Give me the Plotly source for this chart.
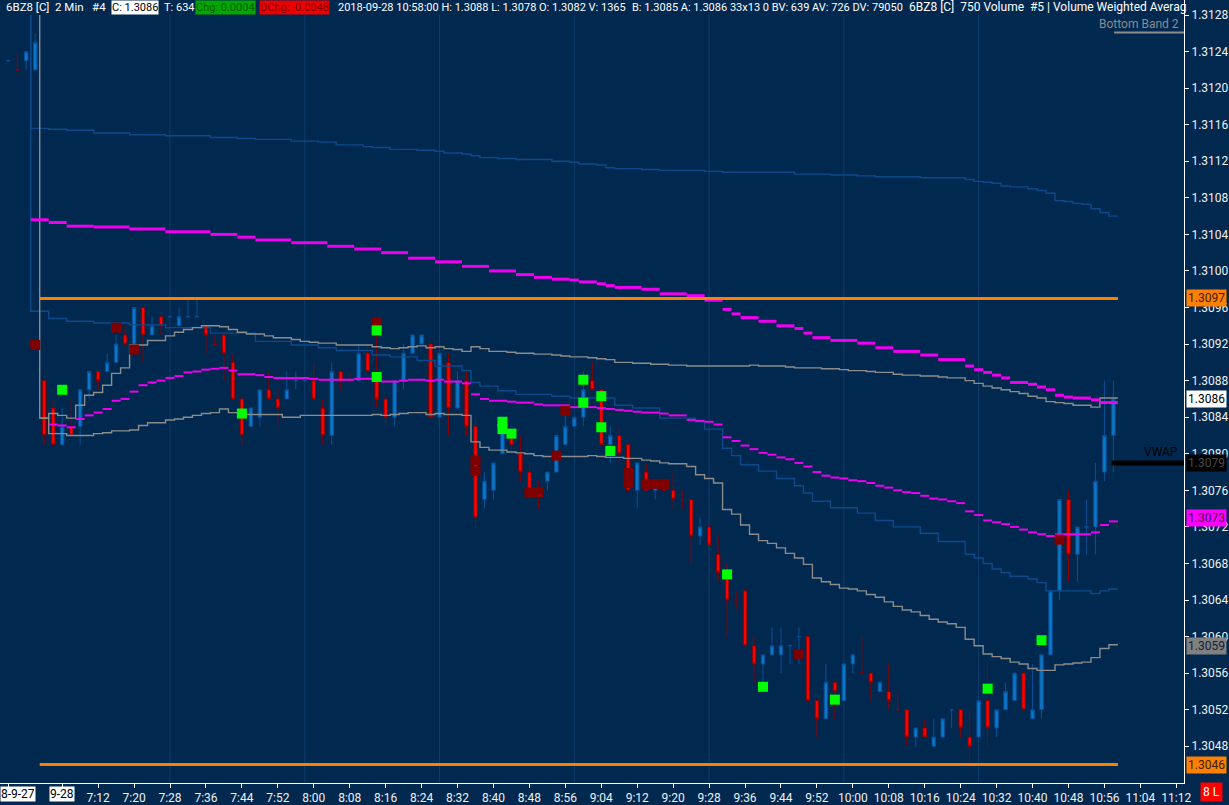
import plotly.graph_objects as go

# 6BZ8 2 min bars. bar 0 = 7:00 on 9-28, negative bars are the end of 9-27
bars = list(range(-4, 120))
opens = [1.3123, 1.3122, 1.3123, 1.3122,
         1.3088, 1.3085, 1.3081, 1.3083, 1.3083, 1.3087, 1.3089, 1.3089, 1.3090, 1.3093,
         1.3092, 1.3096, 1.3093, 1.3095, 1.3095, 1.3094, 1.3095, 1.3095, 1.3094, 1.3092,
         1.3093, 1.3090, 1.3086, 1.3083, 1.3084, 1.3087, 1.3086, 1.3086, 1.3088, 1.3088,
         1.3088, 1.3085, 1.3082, 1.3089, 1.3088, 1.3088, 1.3091, 1.3088, 1.3086, 1.3084,
         1.3088, 1.3091, 1.3092, 1.3092, 1.3084, 1.3090, 1.3085, 1.3088, 1.3083, 1.3075,
         1.3076, 1.3080, 1.3082, 1.3080, 1.3078, 1.3076, 1.3077, 1.3078, 1.3081, 1.3083,
         1.3084, 1.3088, 1.3087, 1.3081, 1.3082, 1.3081, 1.3076, 1.3078, 1.3076, 1.3077,
         1.3076, 1.3075, 1.3075, 1.3071, 1.3072, 1.3069, 1.3067, 1.3064, 1.3065, 1.3059,
         1.3057, 1.3058, 1.3058, 1.3059, 1.3060, 1.3060, 1.3053, 1.3051, 1.3055, 1.3053,
         1.3057, 1.3056, 1.3056, 1.3054, 1.3054, 1.3052, 1.3052, 1.3049, 1.3050, 1.3048,
         1.3049, 1.3052, 1.3052, 1.3049, 1.3049, 1.3053, 1.3050, 1.3052, 1.3053, 1.3056,
         1.3051, 1.3052, 1.3058, 1.3065, 1.3075, 1.3069, 1.3072, 1.3072, 1.3078, 1.3082]
highs = [1.3123, 1.3124, 1.3124, 1.3126,
         1.3088, 1.3086, 1.3085, 1.3086, 1.3087, 1.3089, 1.3089, 1.3091, 1.3093, 1.3094,
         1.3096, 1.3096, 1.3095, 1.3095, 1.3095, 1.3096, 1.3097, 1.3097, 1.3094, 1.3093,
         1.3093, 1.3091, 1.3086, 1.3085, 1.3087, 1.3089, 1.3087, 1.3089, 1.3089, 1.3088,
         1.3090, 1.3086, 1.3090, 1.3089, 1.3089, 1.3092, 1.3092, 1.3095, 1.3086, 1.3088,
         1.3092, 1.3093, 1.3093, 1.3092, 1.3091, 1.3091, 1.3089, 1.3089, 1.3084, 1.3078,
         1.3079, 1.3084, 1.3083, 1.3082, 1.3079, 1.3077, 1.3078, 1.3082, 1.3085, 1.3084,
         1.3089, 1.3090, 1.3087, 1.3083, 1.3083, 1.3081, 1.3079, 1.3079, 1.3077, 1.3077,
         1.3078, 1.3076, 1.3075, 1.3073, 1.3072, 1.3071, 1.3068, 1.3065, 1.3065, 1.3060,
         1.3058, 1.3061, 1.3061, 1.3059, 1.3061, 1.3060, 1.3053, 1.3057, 1.3055, 1.3057,
         1.3058, 1.3060, 1.3056, 1.3055, 1.3057, 1.3054, 1.3052, 1.3050, 1.3051, 1.3051,
         1.3051, 1.3052, 1.3052, 1.3052, 1.3053, 1.3057, 1.3052, 1.3055, 1.3056, 1.3056,
         1.3057, 1.3058, 1.3065, 1.3075, 1.3076, 1.3072, 1.3075, 1.3079, 1.3088, 1.3088]
lows = [1.3123, 1.3122, 1.3122, 1.3122,
        1.3081, 1.3081, 1.3081, 1.3082, 1.3081, 1.3086, 1.3087, 1.3089, 1.3090, 1.3092,
        1.3092, 1.3090, 1.3093, 1.3093, 1.3095, 1.3094, 1.3095, 1.3095, 1.3091, 1.3092,
        1.3088, 1.3086, 1.3081, 1.3083, 1.3083, 1.3086, 1.3083, 1.3086, 1.3087, 1.3088,
        1.3086, 1.3081, 1.3081, 1.3087, 1.3088, 1.3088, 1.3089, 1.3085, 1.3083, 1.3083,
        1.3087, 1.3091, 1.3092, 1.3084, 1.3084, 1.3082, 1.3085, 1.3082, 1.3072, 1.3074,
        1.3075, 1.3080, 1.3080, 1.3077, 1.3075, 1.3074, 1.3076, 1.3078, 1.3081, 1.3083,
        1.3083, 1.3087, 1.3081, 1.3079, 1.3079, 1.3076, 1.3074, 1.3076, 1.3075, 1.3076,
        1.3074, 1.3074, 1.3068, 1.3070, 1.3070, 1.3066, 1.3060, 1.3063, 1.3059, 1.3055,
        1.3055, 1.3058, 1.3056, 1.3057, 1.3057, 1.3053, 1.3049, 1.3051, 1.3051, 1.3053,
        1.3056, 1.3056, 1.3053, 1.3054, 1.3052, 1.3052, 1.3048, 1.3048, 1.3049, 1.3048,
        1.3049, 1.3050, 1.3049, 1.3046, 1.3049, 1.3048, 1.3049, 1.3052, 1.3053, 1.3052,
        1.3051, 1.3051, 1.3058, 1.3064, 1.3066, 1.3066, 1.3069, 1.3069, 1.3077, 1.3078]
closes = [1.3123, 1.3122, 1.3124, 1.3125,
          1.3082, 1.3081, 1.3083, 1.3082, 1.3087, 1.3089, 1.3088, 1.3090, 1.3092, 1.3092,
          1.3096, 1.3093, 1.3094, 1.3094, 1.3095, 1.3095, 1.3095, 1.3095, 1.3093, 1.3092,
          1.3091, 1.3086, 1.3082, 1.3085, 1.3087, 1.3086, 1.3085, 1.3087, 1.3088, 1.3088,
          1.3086, 1.3082, 1.3089, 1.3088, 1.3088, 1.3091, 1.3089, 1.3086, 1.3084, 1.3088,
          1.3091, 1.3093, 1.3093, 1.3084, 1.3091, 1.3085, 1.3088, 1.3083, 1.3073, 1.3077,
          1.3079, 1.3084, 1.3081, 1.3078, 1.3076, 1.3076, 1.3078, 1.3082, 1.3083, 1.3084,
          1.3087, 1.3087, 1.3081, 1.3082, 1.3080, 1.3076, 1.3079, 1.3076, 1.3077, 1.3076,
          1.3075, 1.3075, 1.3071, 1.3072, 1.3070, 1.3067, 1.3064, 1.3064, 1.3059, 1.3057,
          1.3058, 1.3059, 1.3059, 1.3059, 1.3060, 1.3053, 1.3051, 1.3055, 1.3054, 1.3057,
          1.3058, 1.3056, 1.3055, 1.3055, 1.3053, 1.3052, 1.3049, 1.3050, 1.3049, 1.3049,
          1.3051, 1.3052, 1.3050, 1.3048, 1.3053, 1.3050, 1.3052, 1.3054, 1.3056, 1.3052,
          1.3052, 1.3058, 1.3065, 1.3075, 1.3069, 1.3072, 1.3072, 1.3077, 1.3082, 1.3086]

# indicator lines, stored as (first bar of each step, value)
top_blue_start = [-1, -1, 1, 3, 6, 10, 14, 19, 22, 24, 28, 31, 33, 36, 37, 39, 42, 44, 45, 47,
                  48, 49, 51, 53, 57, 59, 60, 62, 63, 64, 67, 69, 74, 76, 84, 88, 91, 93, 98, 103,
                  104, 105, 106, 107, 108, 110, 111, 112, 113, 114, 115, 116, 117, 118, 119]
top_blue_val = [1.3128, 1.31156, 1.31155, 1.31154, 1.31151, 1.31149, 1.31148, 1.31146, 1.31145, 1.31144,
                1.31142, 1.31141, 1.31138, 1.31136, 1.31135, 1.31133, 1.31132, 1.31131, 1.31129, 1.31128,
                1.31126, 1.31124, 1.31123, 1.31122, 1.31120, 1.31119, 1.31117, 1.31116, 1.31113, 1.31112,
                1.31111, 1.31110, 1.31109, 1.31108, 1.31106, 1.31105, 1.31104, 1.31103, 1.31102, 1.31100,
                1.31098, 1.31097, 1.31096, 1.31093, 1.31092, 1.31090, 1.31088, 1.31085, 1.31077, 1.31076,
                1.31074, 1.31073, 1.31068, 1.31064, 1.31060]

low_blue_start = [-1, -1, 1, 3, 6, 10, 14, 19, 24, 28, 31, 33, 37, 39, 42, 44, 47, 48, 49, 51,
                  53, 57, 59, 64, 66, 69, 73, 74, 76, 77, 78, 80, 82, 84, 85, 86, 88, 91, 93, 95,
                  98, 100, 103, 104, 105, 106, 107, 108, 110, 111, 112, 117, 118, 119]
low_blue_val = [1.3128, 1.30956, 1.30948, 1.30945, 1.30943, 1.30941, 1.30938, 1.30932, 1.30923, 1.30919,
                1.30916, 1.30913, 1.30908, 1.30906, 1.30902, 1.30896, 1.30891, 1.30878, 1.30874, 1.30869,
                1.30865, 1.30863, 1.30861, 1.30853, 1.30850, 1.30839, 1.30835, 1.30827, 1.30806, 1.30798,
                1.30788, 1.30781, 1.30773, 1.30765, 1.30757, 1.30748, 1.30741, 1.30735, 1.30727, 1.30720,
                1.30713, 1.30704, 1.30690, 1.30686, 1.30680, 1.30674, 1.30670, 1.30666, 1.30663, 1.30659,
                1.30650, 1.30647, 1.30650, 1.30652]

up_gray_start = [0, 0, 1, 2, 3, 4, 5, 6, 7, 8, 9, 10, 12, 14, 15, 16, 17, 18, 20, 21,
                 22, 23, 25, 26, 28, 29, 30, 31, 33, 37, 38, 39, 40, 41, 42, 43, 44, 45, 46, 47,
                 48, 49, 50, 52, 53, 55, 57, 58, 59, 61, 62, 63, 64, 66, 68, 70, 72, 79, 80, 83,
                 84, 87, 89, 90, 92, 93, 95, 96, 98, 100, 101, 103, 104, 105, 106, 107, 108, 109, 110, 111,
                 112, 113, 114, 115, 117, 118]
up_gray_val = [1.3128, 1.30839, 1.30844, 1.30842, 1.30839, 1.30853, 1.30864, 1.30867, 1.30875, 1.30888,
               1.30894, 1.30919, 1.30924, 1.30929, 1.30933, 1.30936, 1.30938, 1.30940, 1.30939, 1.30936,
               1.30933, 1.30931, 1.30929, 1.30927, 1.30925, 1.30923, 1.30922, 1.30921, 1.30919, 1.30917,
               1.30916, 1.30915, 1.30916, 1.30917, 1.30918, 1.30916, 1.30917, 1.30915, 1.30914, 1.30912,
               1.30917, 1.30915, 1.30912, 1.30911, 1.30910, 1.30909, 1.30908, 1.30907, 1.30906, 1.30905,
               1.30904, 1.30903, 1.30900, 1.30899, 1.30898, 1.30897, 1.30896, 1.30897, 1.30896, 1.30895,
               1.30894, 1.30893, 1.30892, 1.30891, 1.30890, 1.30889, 1.30887, 1.30886, 1.30885, 1.30884,
               1.30883, 1.30880, 1.30877, 1.30874, 1.30872, 1.30870, 1.30868, 1.30866, 1.30863, 1.30861,
               1.30857, 1.30856, 1.30855, 1.30853, 1.30851, 1.30861]

lo_gray_start = [0, 1, 3, 6, 7, 8, 10, 11, 12, 14, 15, 16, 17, 18, 19, 20, 21, 23, 27, 29,
                 37, 38, 39, 40, 41, 43, 44, 45, 47, 48, 49, 50, 52, 53, 54, 55, 56, 61, 62, 63,
                 65, 67, 68, 69, 70, 72, 73, 74, 75, 76, 77, 78, 79, 80, 81, 82, 83, 84, 85, 86,
                 87, 88, 89, 90, 91, 92, 93, 94, 95, 96, 97, 98, 99, 100, 101, 102, 103, 104, 105, 106,
                 107, 108, 109, 110, 111, 113, 114, 115, 116, 117, 118, 119]
lo_gray_val = [1.30839, 1.30822, 1.30820, 1.30822, 1.30823, 1.30825, 1.30826, 1.30831, 1.30834, 1.30837,
               1.30838, 1.30840, 1.30842, 1.30844, 1.30845, 1.30849, 1.30845, 1.30843, 1.30840, 1.30842,
               1.30843, 1.30842, 1.30843, 1.30844, 1.30845, 1.30843, 1.30844, 1.30843, 1.30842, 1.30813,
               1.30807, 1.30804, 1.30802, 1.30801, 1.30800, 1.30798, 1.30797, 1.30798, 1.30797, 1.30796,
               1.30795, 1.30793, 1.30792, 1.30790, 1.30789, 1.30786, 1.30777, 1.30773, 1.30768, 1.30739,
               1.30734, 1.30722, 1.30712, 1.30705, 1.30702, 1.30697, 1.30691, 1.30686, 1.30679, 1.30664,
               1.30660, 1.30657, 1.30653, 1.30652, 1.30650, 1.30646, 1.30643, 1.30638, 1.30633, 1.30629,
               1.30627, 1.30623, 1.30619, 1.30616, 1.30614, 1.30610, 1.30597, 1.30590, 1.30581, 1.30578,
               1.30576, 1.30572, 1.30570, 1.30565, 1.30563, 1.30569, 1.30570, 1.30571, 1.30572, 1.30577,
               1.30587, 1.30591]

vwap_start = [1, 2, 3, 4, 5, 6, 7, 8, 9, 10, 11, 12, 13, 14, 15, 16, 17, 18, 19, 20,
              21, 22, 24, 25, 26, 30, 31, 35, 38, 40, 41, 43, 44, 45, 47, 48, 49, 50, 52, 53,
              55, 56, 59, 62, 63, 64, 65, 66, 67, 69, 70, 72, 73, 74, 75, 76, 77, 78, 79, 80,
              81, 82, 83, 84, 85, 86, 87, 88, 89, 90, 91, 92, 93, 94, 95, 96, 97, 98, 99, 100,
              101, 102, 103, 104, 105, 106, 107, 108, 109, 110, 111, 112, 113, 117, 118, 119]
vwap_val = [1.30832, 1.30831, 1.30829, 1.30838, 1.30842, 1.30845, 1.30849, 1.30858, 1.30860, 1.30868,
            1.30875, 1.30878, 1.30880, 1.30883, 1.30885, 1.30889, 1.30890, 1.30892, 1.30893, 1.30894,
            1.30891, 1.30887, 1.30886, 1.30884, 1.30883, 1.30882, 1.30881, 1.30882, 1.30879, 1.30880,
            1.30881, 1.30880, 1.30881, 1.30879, 1.30877, 1.30865, 1.30860, 1.30858, 1.30857, 1.30856,
            1.30854, 1.30853, 1.30851, 1.30850, 1.30849, 1.30848, 1.30847, 1.30846, 1.30845, 1.30844,
            1.30842, 1.30837, 1.30836, 1.30835, 1.30832, 1.30818, 1.30814, 1.30809, 1.30805, 1.30801,
            1.30799, 1.30796, 1.30794, 1.30790, 1.30786, 1.30780, 1.30776, 1.30774, 1.30773, 1.30771,
            1.30770, 1.30768, 1.30765, 1.30763, 1.30760, 1.30758, 1.30757, 1.30754, 1.30751, 1.30750,
            1.30748, 1.30746, 1.30737, 1.30733, 1.30727, 1.30725, 1.30723, 1.30720, 1.30717, 1.30714,
            1.30712, 1.30710, 1.30712, 1.30714, 1.30722, 1.30726]

mag_start = [-1, 1, 3, 6, 10, 14, 19, 22, 24, 28, 32, 35, 38, 41, 44, 47, 50, 53, 55, 57,
             59, 60, 62, 63, 64, 67, 69, 72, 74, 76, 77, 78, 80, 82, 84, 85, 86, 88, 91, 93,
             95, 98, 100, 103, 104, 105, 106, 107, 108, 110, 111, 112, 113, 114, 115, 117, 118]
mag_val = [1.31056, 1.31053, 1.31049, 1.31048, 1.31046, 1.31043, 1.31040, 1.31037, 1.31034, 1.31031,
           1.31027, 1.31024, 1.31020, 1.31014, 1.31010, 1.31005, 1.31000, 1.30996, 1.30993, 1.30991,
           1.30990, 1.30988, 1.30986, 1.30984, 1.30982, 1.30980, 1.30975, 1.30973, 1.30968, 1.30958,
           1.30953, 1.30949, 1.30945, 1.30940, 1.30937, 1.30932, 1.30927, 1.30924, 1.30921, 1.30916,
           1.30912, 1.30908, 1.30903, 1.30896, 1.30892, 1.30889, 1.30886, 1.30883, 1.30878, 1.30876,
           1.30873, 1.30870, 1.30864, 1.30862, 1.30861, 1.30859, 1.30856]

# signal boxes
green_bar = [2, 22, 37, 37, 51, 51, 52, 60, 60, 62, 62, 63, 76, 80, 88, 105, 111]
green_price = [1.30870, 1.30844, 1.30935, 1.30884, 1.30835, 1.30827, 1.30822, 1.30881, 1.30856,
               1.30863, 1.30829, 1.30803, 1.30668, 1.30545, 1.30531, 1.30543, 1.30596]
red_bar = [-1, 8, 10, 37, 48, 48, 54, 55, 57, 58, 65, 65, 67, 68, 69, 84, 113]
red_price = [1.30919, 1.30938, 1.30914, 1.30944, 1.30793, 1.30781, 1.30758, 1.30758, 1.30798,
             1.30847, 1.30779, 1.30768, 1.30767, 1.30767, 1.30767, 1.30581, 1.30706]

session_high = 1.3097
session_low = 1.3046
vwap_flag = 1.3079
flag_prices = [1.3097, 1.3086, 1.3079, 1.3073, 1.3059, 1.3046]
grid_bars = [14, 29, 44, 59, 74, 89, 104]

price_ticks = [1.3048, 1.3052, 1.3056, 1.3060, 1.3064, 1.3068, 1.3072, 1.3076, 1.3080, 1.3084,
               1.3088, 1.3092, 1.3096, 1.3100, 1.3104, 1.3108, 1.3112, 1.3116, 1.3120, 1.3124, 1.3128]
time_tick_bars = list(range(6, 127, 4))
time_labels = ["7:12", "7:20", "7:28", "7:36", "7:44", "7:52", "8:00", "8:08", "8:16", "8:24",
               "8:32", "8:40", "8:48", "8:56", "9:04", "9:12", "9:20", "9:28", "9:36", "9:44",
               "9:52", "10:00", "10:08", "10:16", "10:24", "10:32", "10:40", "10:48", "10:56",
               "11:04", "11:12"]

W, H = 1229, 805
MR, MB = 43, 19
PW, PH = W - MR, H - MB
BG = "#01284f"
FONT = "Roboto, Segoe UI, Arial, sans-serif"


def px_x(p):
    return p / PW


def px_y(p):
    return 1 - p / PH


def steps(starts, vals, end, gaps=False):
    xs, ys = [], []
    for k, v in enumerate(vals):
        e = starts[k + 1] if k + 1 < len(starts) else end
        xs += [starts[k] - 0.5, e - 0.5]
        ys += [v, v]
        if gaps:
            xs.append(None)
            ys.append(None)
    return xs, ys


fig = go.Figure()

fig.add_trace(go.Candlestick(
    x=bars, open=opens, high=highs, low=lows, close=closes,
    increasing=dict(line=dict(color="#0a4f96", width=1), fillcolor="#0a78c8"),
    decreasing=dict(line=dict(color="#8b0000", width=1), fillcolor="#ff0000"),
    whiskerwidth=0, hoverinfo="skip", showlegend=False))

end_bar = bars[-1] + 1
for st, vl, col, w, gap in [
        (top_blue_start, top_blue_val, "#0d4a8c", 1.4, False),
        (low_blue_start, low_blue_val, "#0d4a8c", 1.4, False),
        (up_gray_start, up_gray_val, "#8c8c8c", 1.4, False),
        (lo_gray_start, lo_gray_val, "#8c8c8c", 1.4, False),
        (mag_start, mag_val, "#f000f0", 3, True),
        (vwap_start, vwap_val, "#f000f0", 2, True)]:
    xs, ys = steps(st, vl, end_bar, gap)
    fig.add_trace(go.Scatter(x=xs, y=ys, mode="lines", line=dict(color=col, width=w),
                             hoverinfo="skip", showlegend=False))

for lvl in [session_high, session_low]:
    fig.add_trace(go.Scatter(x=[-0.5, bars[-1] + 0.5], y=[lvl, lvl], mode="lines",
                             line=dict(color="#ff8000", width=3), hoverinfo="skip", showlegend=False))

fig.add_trace(go.Scatter(x=red_bar, y=red_price, mode="markers",
                         marker=dict(symbol="square", size=10, color="#800000", line=dict(width=0)),
                         hoverinfo="skip", showlegend=False))
fig.add_trace(go.Scatter(x=green_bar, y=green_price, mode="markers",
                         marker=dict(symbol="square", size=10, color="#00ff00", line=dict(width=0)),
                         hoverinfo="skip", showlegend=False))

x_lo = (0 - 44.3) / 9
x_hi = (PW - 44.3) / 9
y_top = 1.3100 + 272 * 0.0001 / 9.175
y_bot = 1.3100 - (PH - 272) * 0.0001 / 9.175

shapes = []
for b in grid_bars:
    shapes.append(dict(type="line", xref="x", yref="paper", x0=b, x1=b, y0=0, y1=px_y(15),
                       line=dict(color="#0f3d6c", width=1), layer="below"))
# VWAP pointer to the axis
shapes.append(dict(type="line", xref="x", yref="y", x0=bars[-1] - 0.2, x1=x_hi, y0=vwap_flag,
                   y1=vwap_flag, line=dict(color="#000000", width=5)))
shapes.append(dict(type="line", xref="paper", yref="paper", x0=px_x(1116), x1=1, y0=px_y(32.5),
                   y1=px_y(32.5), line=dict(color="#8c8c8c", width=2)))

ann = []
# header line
hy = px_y(7.5)
head = [
    (5, "6BZ8 [C]  2 Min   #4", "#ffffff", None, 11.5),
    (111, "C: 1.3086", "#000000", "#ffffff", 11),
    (163, "T: 634", "#ffffff", None, 11),
    (195, "Chg: 0.0004", "#005a00", "#00a800", 11),
    (259, "DChg: -0.0048", "#7a0000", "#ee0000", 11),
    (338, "2018-09-28 10:58:00 H: 1.3088 L: 1.3078 O: 1.3082 V: 1365", "#ffffff", None, 11),
    (632, "B: 1.3085 A: 1.3086 33x13 0 BV: 639 AV: 726 DV: 79050", "#ffffff", None, 11),
    (910, "6BZ8 [C]  750 Volume  #5 | Volume Weighted Averag", "#ffffff", None, 12),
]
for x0, txt, fc, bg, fs in head:
    a = dict(xref="paper", yref="paper", x=px_x(x0), y=hy, xanchor="left", yanchor="middle",
             text=txt, showarrow=False, font=dict(family=FONT, size=fs, color=fc), borderpad=0)
    if bg:
        a["bgcolor"] = bg
    ann.append(a)

ann.append(dict(xref="paper", yref="paper", x=px_x(1183), y=px_y(24.5), xanchor="right",
                yanchor="middle", text="Bottom Band 2", showarrow=False,
                font=dict(family=FONT, size=12, color="#8c8c8c")))

# price flags on the right axis
flag_style = [("#ff8000", "#3a1c00"), ("#ffffff", "#000000"), ("#000000", "#4a4a4a"),
              ("#ff00ff", "#3c003c"), ("#808080", "#10203a"), ("#ff8000", "#3a1c00")]
for p, (bg, fc) in zip(flag_prices, flag_style):
    ann.append(dict(xref="paper", yref="y", x=1, xshift=2, y=p, xanchor="left", yanchor="middle",
                    text=f"{p:.4f}", showarrow=False, bgcolor=bg, borderpad=1,
                    font=dict(family=FONT, size=12, color=fc)))
ann.append(dict(xref="paper", yref="y", x=px_x(1182), y=vwap_flag, yshift=11, xanchor="right",
                yanchor="middle", text="VWAP", showarrow=False,
                font=dict(family=FONT, size=12, color="#000000")))

# date labels on the time axis
ann.append(dict(xref="paper", yref="paper", x=0, y=px_y(797), xanchor="left", yanchor="middle",
                text="8-9-27", showarrow=False, bgcolor="#ffffff", borderpad=0,
                font=dict(family=FONT, size=12, color="#000000")))
ann.append(dict(xref="x", yref="paper", x=2, y=px_y(797), xanchor="center", yanchor="middle",
                text="9-28", showarrow=False, bgcolor="#ffffff", borderpad=0,
                font=dict(family=FONT, size=12, color="#000000")))
ann.append(dict(xref="paper", yref="paper", x=px_x(1214), y=px_y(795.5), xanchor="center",
                yanchor="middle", text="8 L", showarrow=False, bgcolor="#ff0000", borderpad=2,
                font=dict(family=FONT, size=12, color="#ffffff")))

fig.update_layout(
    width=W, height=H,
    margin=dict(l=0, r=MR, t=0, b=MB, pad=0),
    paper_bgcolor=BG, plot_bgcolor=BG,
    showlegend=False, boxgap=0.45,
    font=dict(family=FONT, size=12, color="#f0f0f0"),
    shapes=shapes, annotations=ann,
    xaxis=dict(range=[x_lo, x_hi], rangeslider=dict(visible=False), showgrid=False, zeroline=False,
               showline=True, linecolor="#ffffff", linewidth=1, ticks="outside", ticklen=4,
               tickcolor="#ffffff", tickvals=[-4, 2] + time_tick_bars,
               ticktext=["", ""] + time_labels, tickfont=dict(size=12, color="#f0f0f0")),
    yaxis=dict(range=[y_bot, y_top], side="right", showgrid=False, zeroline=False,
               showline=True, linecolor="#ffffff", linewidth=1, ticks="outside", ticklen=4,
               tickcolor="#ffffff", tickvals=price_ticks, tickformat=".4f",
               tickfont=dict(size=12, color="#f0f0f0")),
)

fig.write_html("out.html", config={"displayModeBar": False},
               post_script="document.body.style.margin='0';document.body.style.overflow='hidden';")
